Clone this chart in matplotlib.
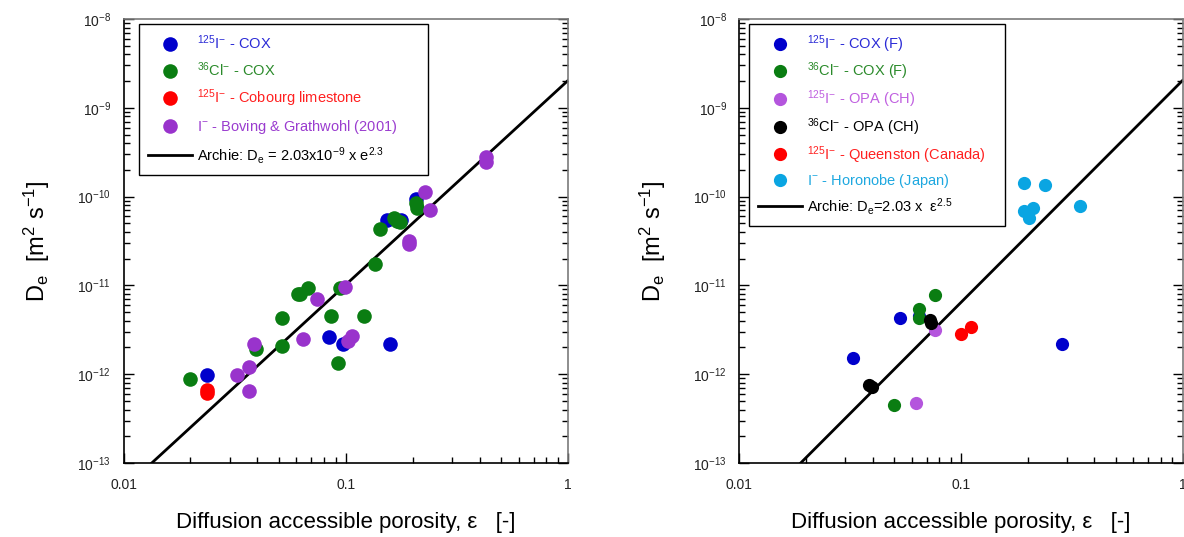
import numpy as np
import matplotlib
matplotlib.use('Agg')
import matplotlib.pyplot as plt
from matplotlib.lines import Line2D
from matplotlib.ticker import NullFormatter, FixedLocator, FixedFormatter

plt.rcParams['font.family'] = ['Liberation Sans', 'DejaVu Sans']
plt.rcParams['mathtext.fontset'] = 'custom'
plt.rcParams['mathtext.rm'] = 'Liberation Sans'
plt.rcParams['mathtext.it'] = 'Liberation Sans:italic'
plt.rcParams['mathtext.bf'] = 'Liberation Sans:bold'

# ---------------- data: left panel ----------------
L_i_cox_eps = [0.206, 0.153, 0.178, 0.0838, 0.0973, 0.158, 0.0237]
L_i_cox_De = [9.5e-11, 5.5e-11, 5.5e-11, 2.65e-12, 2.19e-12, 2.19e-12, 9.9e-13]

L_cl_cox_eps = [0.206, 0.21, 0.165, 0.17, 0.175, 0.143, 0.136, 0.0946, 0.0676, 0.062,
                0.061, 0.0516, 0.0859, 0.121, 0.0516, 0.0395, 0.0927, 0.020]
L_cl_cox_De = [8.4e-11, 7.5e-11, 5.8e-11, 5.3e-11, 5.2e-11, 4.3e-11, 1.74e-11, 9.25e-12, 9.3e-12, 8.1e-12,
               7.9e-12, 4.26e-12, 4.56e-12, 4.56e-12, 2.07e-12, 1.94e-12, 1.35e-12, 8.8e-13]

L_i_cob_eps = [0.0237, 0.0237]
L_i_cob_De = [6.6e-13, 6.1e-13]

L_bg_eps = [0.428, 0.428, 0.227, 0.239, 0.192, 0.192, 0.0997, 0.0745, 0.0642, 0.107,
            0.1024, 0.0385, 0.0366, 0.0325, 0.0366]
L_bg_De = [2.79e-10, 2.47e-10, 1.14e-10, 7.0e-11, 3.18e-11, 2.9e-11, 9.5e-12, 7.0e-12, 2.47e-12, 2.67e-12,
           2.39e-12, 2.19e-12, 1.2e-12, 9.9e-13, 6.5e-13]

L_archie_A = 2.03e-9
L_archie_n = 2.3

# ---------------- data: right panel ----------------
R_i_cox_eps = [0.0327, 0.0533, 0.0647, 0.286]
R_i_cox_De = [1.53e-12, 4.3e-12, 4.56e-12, 2.19e-12]

R_cl_cox_eps = [0.0764, 0.0647, 0.0647, 0.0497]
R_cl_cox_De = [7.85e-12, 5.47e-12, 4.3e-12, 4.5e-13]

R_i_opa_eps = [0.0764, 0.0629]
R_i_opa_De = [3.15e-12, 4.8e-13]

R_cl_opa_eps = [0.0725, 0.0735, 0.0385, 0.0395]
R_cl_opa_De = [4.1e-12, 3.8e-12, 7.5e-13, 7.1e-13]

R_i_qst_eps = [0.100, 0.1106]
R_i_qst_De = [2.84e-12, 3.37e-12]

R_i_hor_eps = [0.193, 0.239, 0.346, 0.193, 0.212, 0.202]
R_i_hor_De = [1.44e-10, 1.36e-10, 7.85e-11, 6.9e-11, 7.4e-11, 5.8e-11]

R_archie_A = 2.03e-9
R_archie_n = 2.5

x_ticks = [0.01, 0.1, 1]
x_ticklabels = ['0.01', '0.1', '1']
y_exponents = [-13, -12, -11, -10, -9, -8]

# ---------------- figure ----------------
W, H = 1184, 537
fig = plt.figure(figsize=(W / 100, H / 100), dpi=100)


def px_axes(x0, x1, y0, y1):
    return fig.add_axes([x0 / W, 1 - y1 / H, (x1 - x0) / W, (y1 - y0) / H])


axL = px_axes(123.5, 568, 19, 463)
axR = px_axes(739.3, 1182.5, 19, 463)

y_major = [10.0 ** e for e in y_exponents]
y_major_labels = [r'$10^{%d}$' % e for e in y_exponents]
y_minor = [m * 10.0 ** e for e in y_exponents[:-1] for m in range(2, 10)]
x_minor = [m * 10.0 ** e for e in (-2, -1) for m in range(2, 10)]


def style(ax):
    ax.set_xscale('log')
    ax.set_yscale('log')
    ax.set_xlim(0.01, 1)
    ax.set_ylim(1e-13, 1e-8)
    ax.xaxis.set_major_locator(FixedLocator(x_ticks))
    ax.xaxis.set_major_formatter(FixedFormatter(x_ticklabels))
    ax.xaxis.set_minor_locator(FixedLocator(x_minor))
    ax.xaxis.set_minor_formatter(NullFormatter())
    ax.yaxis.set_major_locator(FixedLocator(y_major))
    ax.yaxis.set_major_formatter(FixedFormatter(y_major_labels))
    ax.yaxis.set_minor_locator(FixedLocator(y_minor))
    ax.yaxis.set_minor_formatter(NullFormatter())
    ax.tick_params(which='both', direction='in', top=False, right=True, left=True,
                   bottom=True, width=1, colors='black', labelcolor='#222222')
    ax.tick_params(which='major', length=7)
    ax.tick_params(which='minor', length=4)
    ax.tick_params(axis='y', labelsize=10, pad=9)
    ax.tick_params(axis='x', labelsize=10, pad=11)
    for s in ['left', 'bottom']:
        ax.spines[s].set_color('black')
        ax.spines[s].set_linewidth(1.2)
    for s in ['top', 'right']:
        ax.spines[s].set_color('#7a7a7a')
        ax.spines[s].set_linewidth(1.2)
    ax.set_xlabel('Diffusion accessible porosity, ε   [-]', fontsize=16, labelpad=14)
    ax.set_ylabel(r'D$_\mathrm{e}$  [m$^2$ s$^{-1}$]', fontsize=17)
    ax.yaxis.set_label_coords(-0.16, 0.5)


style(axL)
style(axR)

ms = 10.5
eps_line = np.logspace(-2, 0, 500)

# left panel
axL.plot(eps_line, L_archie_A * eps_line ** L_archie_n, color='black', lw=2, zorder=2)
axL.plot(L_i_cox_eps, L_i_cox_De, 'o', color='#0000cc', ms=ms, mec='none', zorder=3)
axL.plot(L_cl_cox_eps, L_cl_cox_De, 'o', color='#0a7d12', ms=ms, mec='none', zorder=3)
axL.plot(L_i_cob_eps, L_i_cob_De, 'o', color='#ff0000', ms=ms, mec='none', zorder=3)
axL.plot(L_bg_eps, L_bg_De, 'o', color='#9933cc', ms=ms, mec='none', zorder=3)

# right panel
ms2 = 9.5
axR.plot(eps_line, R_archie_A * eps_line ** R_archie_n, color='black', lw=2, zorder=2)
axR.plot(R_i_cox_eps, R_i_cox_De, 'o', color='#0000cc', ms=ms2, mec='none', zorder=3)
axR.plot(R_cl_cox_eps, R_cl_cox_De, 'o', color='#0a7d12', ms=ms2, mec='none', zorder=3)
axR.plot(R_i_opa_eps, R_i_opa_De, 'o', color='#b455dd', ms=ms2, mec='none', zorder=3)
axR.plot(R_cl_opa_eps, R_cl_opa_De, 'o', color='#000000', ms=ms2, mec='none', zorder=3)
axR.plot(R_i_qst_eps, R_i_qst_De, 'o', color='#ff0000', ms=ms2, mec='none', zorder=3)
axR.plot(R_i_hor_eps, R_i_hor_De, 'o', color='#0aa5e2', ms=ms2, mec='none', zorder=3)


def mk(c, s):
    return Line2D([], [], marker='o', ls='none', color=c, mec='none', ms=s)


lineh = Line2D([], [], color='black', lw=2)

hL = [mk('#0000cc', ms), mk('#0a7d12', ms), mk('#ff0000', ms), mk('#9933cc', ms), lineh]
labL = [r'$^{125}$I$^{-}$ - COX', r'$^{36}$Cl$^{-}$ - COX', r'$^{125}$I$^{-}$ - Cobourg limestone',
        r'I$^{-}$ - Boving & Grathwohl (2001)', r'Archie: D$_\mathrm{e}$ = 2.03x10$^{-9}$ x e$^{2.3}$']
colL = ['#2a2ad6', '#2a8a2a', '#ff2020', '#9a3ccf', 'black']

legkw = dict(loc='upper left', borderaxespad=0, mode='expand', fontsize=10.5, frameon=True,
             fancybox=False, edgecolor='black', framealpha=1, handlelength=3.0,
             handletextpad=0.35, borderpad=0.6)

x0 = (139.3 - 123.5) / 444.5
w = (427.7 - 139.3) / 444.5
legL = axL.legend(hL, labL, bbox_to_anchor=(x0, 0.64, w, 0.348), labelcolor=colL,
                  labelspacing=0.6, **legkw)
legL.get_frame().set_linewidth(1)

hR = [mk('#0000cc', ms2), mk('#0a7d12', ms2), mk('#b455dd', ms2), mk('#000000', ms2),
      mk('#ff0000', ms2), mk('#0aa5e2', ms2), lineh]
labR = [r'$^{125}$I$^{-}$ - COX (F)', r'$^{36}$Cl$^{-}$ - COX (F)', r'$^{125}$I$^{-}$ - OPA (CH)',
        r'$^{36}$Cl$^{-}$ - OPA (CH)', r'$^{125}$I$^{-}$ - Queenston (Canada)',
        r'I$^{-}$ - Horonobe (Japan)', r'Archie: D$_\mathrm{e}$=2.03 x  ε$^{2.5}$']
colR = ['#2a2ad6', '#2a8a2a', '#c060e0', 'black', '#ff2020', '#1ea8e0', 'black']

x0r = (749.3 - 739.3) / 443.4
wr = (1005 - 749.3) / 443.4
legR = axR.legend(hR, labR, bbox_to_anchor=(x0r, 0.525, wr, 0.463), labelcolor=colR,
                  labelspacing=0.42, **legkw)
legR.get_frame().set_linewidth(1)

fig.savefig('out.png', dpi=100)
